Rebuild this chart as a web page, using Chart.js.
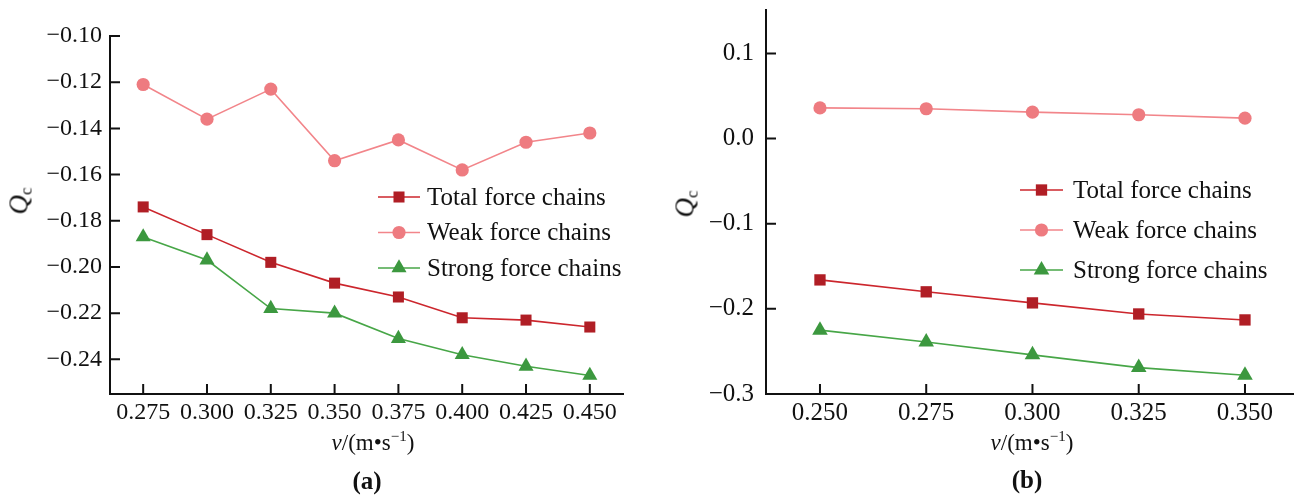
<!DOCTYPE html>
<html lang="en">
<head>
<meta charset="UTF-8" />
<title>Q_c versus speed</title>
<script src="https://cdn.jsdelivr.net/npm/chart.js@4.4.1/dist/chart.umd.min.js"></script>
<style>
  body { margin: 0; background: #fff; width: 1304px; height: 497px; position: relative; overflow: hidden;
         font-family: 'Liberation Serif', 'DejaVu Serif', serif; color: #111; }
  canvas { position: absolute; top: 0; }
  .lbl { position: absolute; white-space: nowrap; transform: translate(-50%, -50%); }
  .ylab { transform: translate(-50%, -50%) rotate(-90deg); font-size: 27px; }
  .ylab sub { font-size: 17px; font-style: normal; vertical-align: -4px; }
  .xlab { font-size: 23px; }
  .xlab sup { font-size: 15px; vertical-align: 9px; }
  .tag { font-size: 25px; font-weight: bold; }
</style>
</head>
<body>
<canvas id="chartA" width="650" height="430" style="left:0px"></canvas>
<canvas id="chartB" width="654" height="430" style="left:650px"></canvas>

<div class="lbl ylab" style="left:20px; top:201px"><i>Q</i><sub>c</sub></div>
<div class="lbl ylab" style="left:686px; top:204px"><i>Q</i><sub>c</sub></div>
<div class="lbl xlab" style="left:373px; top:442px"><i>v</i>/(m•s<sup>−1</sup>)</div>
<div class="lbl xlab" style="left:1032px; top:442px"><i>v</i>/(m•s<sup>−1</sup>)</div>
<div class="lbl tag" style="left:367px; top:481px">(a)</div>
<div class="lbl tag" style="left:1027px; top:480px">(b)</div>

<script>
// series names
const seriesNames = ['Total force chains', 'Weak force chains', 'Strong force chains'];

// (a) values
const speedsA = [0.275, 0.300, 0.325, 0.350, 0.375, 0.400, 0.425, 0.450];
const totalA  = [-0.174, -0.186, -0.198, -0.207, -0.213, -0.222, -0.223, -0.226];
const weakA   = [-0.121, -0.136, -0.123, -0.154, -0.145, -0.158, -0.146, -0.142];
const strongA = [-0.187, -0.197, -0.218, -0.220, -0.231, -0.238, -0.243, -0.247];
const yTicksA = [-0.10, -0.12, -0.14, -0.16, -0.18, -0.20, -0.22, -0.24];

// (b) values
const speedsB = [0.250, 0.275, 0.300, 0.325, 0.350];
const totalB  = [-0.166, -0.180, -0.193, -0.206, -0.213];
const weakB   = [0.036, 0.035, 0.031, 0.028, 0.024];
const strongB = [-0.225, -0.239, -0.254, -0.269, -0.278];
const yTicksB = [0.1, 0.0, -0.1, -0.2, -0.3];

// [line, marker]
const colTotal = ['#cc262d', '#b01e25'];
const colWeak = ['#f2858a', '#ee7b80'];
const colStrong = ['#47a647', '#3c983f'];

Chart.defaults.font.family = "'Liberation Serif', 'DejaVu Serif', serif";
Chart.defaults.color = '#111';

// ticks drawn on the inside of the axes
const innerTicks = {
  id: 'innerTicks',
  afterDraw(chart) {
    const { ctx, chartArea, scales } = chart;
    ctx.save();
    ctx.strokeStyle = '#111';
    ctx.lineWidth = 2;
    ctx.beginPath();
    scales.x.ticks.forEach(t => {
      const px = scales.x.getPixelForValue(t.value);
      ctx.moveTo(px, chartArea.bottom);
      ctx.lineTo(px, chartArea.bottom - 10);
    });
    scales.y.ticks.forEach(t => {
      const py = scales.y.getPixelForValue(t.value);
      if (Math.abs(py - chartArea.bottom) < 2) return;
      ctx.moveTo(chartArea.left, py);
      ctx.lineTo(chartArea.left + 10, py);
    });
    ctx.stroke();
    ctx.restore();
  }
};

// legend with a short line through the marker
const lineLegend = {
  id: 'lineLegend',
  afterDraw(chart, args, opts) {
    const ctx = chart.ctx;
    ctx.save();
    chart.data.datasets.forEach((ds, i) => {
      const y = opts.y + i * opts.gap;
      ctx.strokeStyle = ds.borderColor;
      ctx.lineWidth = 1.6;
      ctx.beginPath();
      ctx.moveTo(opts.x, y);
      ctx.lineTo(opts.x + opts.len, y);
      ctx.stroke();
      ctx.fillStyle = ds.pointBackgroundColor;
      ctx.strokeStyle = ds.pointBackgroundColor;
      Chart.helpers.drawPoint(ctx, { pointStyle: ds.pointStyle, radius: ds.pointRadius, rotation: 0, borderWidth: 0 },
        opts.x + opts.len / 2, y);
      ctx.fillStyle = '#111';
      ctx.font = opts.font;
      ctx.textBaseline = 'middle';
      ctx.fillText(ds.label, opts.textX, y + 1);
    });
    ctx.restore();
  }
};

function fmt(v, d) {
  return v.toFixed(d).replace('-', '\u2212');
}

function series(xs, ys, label, cols, style, r) {
  return {
    label: label,
    data: xs.map((x, i) => ({ x: x, y: ys[i] })),
    borderColor: cols[0],
    backgroundColor: cols[1],
    pointBackgroundColor: cols[1],
    pointBorderWidth: 0,
    borderWidth: 1.6,
    pointStyle: style,
    pointRadius: r,
    pointHoverRadius: r
  };
}

function makeChart(id, cfg) {
  return new Chart(document.getElementById(id), {
    type: 'line',
    data: {
      datasets: [
        series(cfg.xs, cfg.total, seriesNames[0], colTotal, 'rect', cfg.r[0]),
        series(cfg.xs, cfg.weak, seriesNames[1], colWeak, 'circle', cfg.r[1]),
        series(cfg.xs, cfg.strong, seriesNames[2], colStrong, 'triangle', cfg.r[2])
      ]
    },
    options: {
      responsive: false,
      animation: false,
      devicePixelRatio: 1,
      layout: { padding: cfg.padding },
      plugins: {
        legend: { display: false },
        tooltip: { enabled: false },
        lineLegend: cfg.legend
      },
      scales: {
        x: {
          type: 'linear',
          min: cfg.xRange[0],
          max: cfg.xRange[1],
          afterBuildTicks: s => { s.ticks = cfg.xs.map(v => ({ value: v })); },
          afterFit: s => { s.height = 36; s.paddingLeft = 0; s.paddingRight = 0; },
          grid: { display: false, drawTicks: false },
          border: { display: true, color: '#111', width: 2 },
          ticks: { font: { size: cfg.fontSize }, color: '#111', padding: 4, maxRotation: 0,
                   callback: v => fmt(v, 3) }
        },
        y: {
          type: 'linear',
          min: cfg.yRange[0],
          max: cfg.yRange[1],
          afterBuildTicks: s => { s.ticks = cfg.yTicks.map(v => ({ value: v })); },
          afterFit: s => { s.width = cfg.yWidth; s.paddingTop = 0; s.paddingBottom = 0; },
          grid: { display: false, drawTicks: false },
          border: { display: true, color: '#111', width: 2 },
          ticks: { font: { size: cfg.fontSize }, color: '#111', padding: cfg.yPad,
                   callback: v => fmt(v, cfg.yDec) }
        }
      }
    },
    plugins: [innerTicks, lineLegend]
  });
}

makeChart('chartA', {
  xs: speedsA, total: totalA, weak: weakA, strong: strongA, yTicks: yTicksA,
  xRange: [0.262, 0.463], yRange: [-0.255, -0.10], yDec: 2,
  padding: { left: 0, right: 27, top: 36, bottom: 0 }, yWidth: 110, yPad: 8,
  fontSize: 24, r: [7.8, 6.6, 8.7],
  legend: { x: 378, y: 197, gap: 35.5, len: 42, textX: 427, font: "25px 'Liberation Serif'" }
});

makeChart('chartB', {
  xs: speedsB, total: totalB, weak: weakB, strong: strongB, yTicks: yTicksB,
  xRange: [0.2373, 0.3613], yRange: [-0.3, 0.151], yDec: 1,
  padding: { left: 0, right: 11, top: 10, bottom: 0 }, yWidth: 116, yPad: 12,
  fontSize: 25, r: [8, 6.6, 9],
  legend: { x: 370, y: 190, gap: 40, len: 43, textX: 423, font: "25px 'Liberation Serif'" }
});
</script>
</body>
</html>
